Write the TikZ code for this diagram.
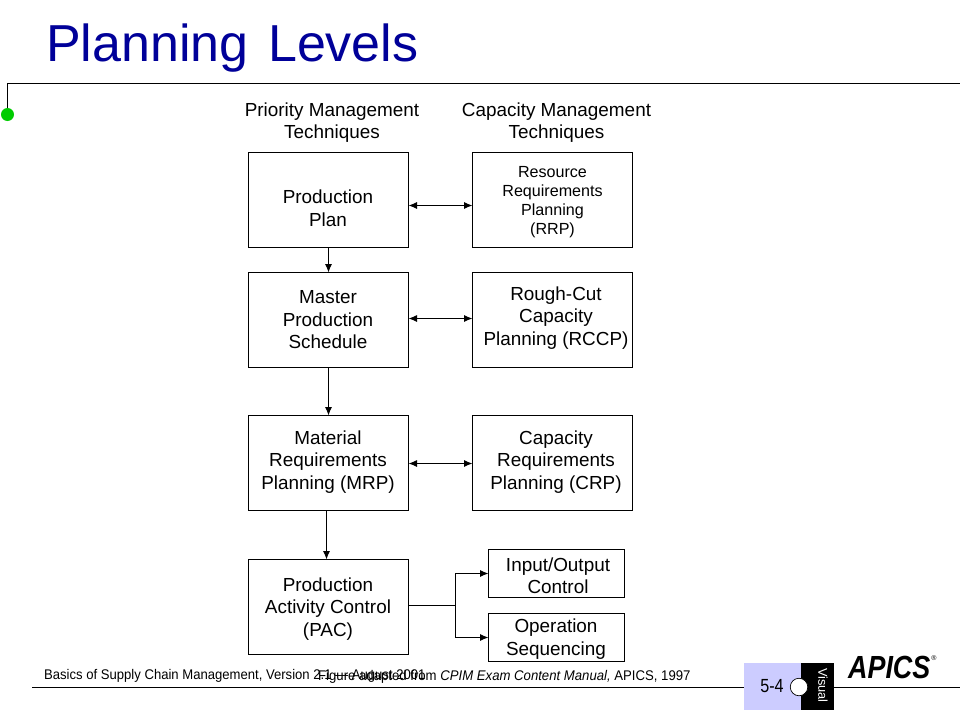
\documentclass[tikz,border=0pt]{standalone}
\usepackage{fontspec}
\setmainfont{Liberation Sans}
\usetikzlibrary{arrows.meta}
\definecolor{titleblue}{RGB}{0,0,153}
\definecolor{dotgreen}{RGB}{0,204,0}
\definecolor{lav}{RGB}{204,204,255}
\tikzset{
  boxnode/.style={draw=black,line width=1pt,minimum width=#1,inner sep=0pt,outer sep=0pt},
  labelnode/.style={align=center,inner sep=0pt,font=\fontsize{18.9}{22.5}\selectfont},
  smalllabel/.style={align=center,inner sep=0pt,font=\fontsize{16.1}{19}\selectfont},
  link/.style={line width=1pt,-{Latex[length=8.5pt,width=7pt]}},
  dlink/.style={line width=1pt,{Latex[length=8.5pt,width=7pt]}-{Latex[length=8.5pt,width=7pt]}},
  rule/.style={line width=1pt},
  foot/.style={anchor=west,inner sep=0pt,font=\fontsize{14}{16}\selectfont}
}
\begin{document}
\begin{tikzpicture}[x=1pt,y=-1pt]
\useasboundingbox (0,0) rectangle (960,720);
\fill[white] (0,0) rectangle (960,720);
% title
\node[anchor=west,inner sep=0pt,text=titleblue,font=\fontsize{52}{60}\selectfont] (title) at (46,48.5) {Planning\hspace{0.1em} Levels};
% top rule and dot
\coordinate (topend) at (960,83.5);
\coordinate (topcorner) at (7.5,83.5);
\node[circle,fill=dotgreen,minimum size=13pt,inner sep=0pt] (dot) at (7.5,114.5) {};
\draw[rule] (topend) -- (topcorner) -- (dot);
% bottom rule
\coordinate (botstart) at (32,687.5);
\coordinate (botend) at (960,687.5);
\draw[rule] (botstart) -- (botend);
% tab
\fill[lav] (744,663) rectangle (801,710);
\fill[black] (801,663) rectangle (834,710);
\node[circle,draw=black,fill=white,line width=0.7pt,minimum size=17.5pt,inner sep=0pt] (tabdot) at (799,687) {};
\node[inner sep=0pt,font=\fontsize{19}{22}\selectfont,xscale=0.85] (pagenum) at (772,686) {5-4};
\node[inner sep=0pt,text=white,rotate=-90,font=\fontsize{12.8}{15}\selectfont] (visual) at (823,685.5) {Visual};
% logo
\node[anchor=west,inner sep=0pt,font=\bfseries\itshape\fontsize{32}{34}\selectfont,xscale=0.84] (logo) at (848,667) {APICS};
\node[inner sep=0pt,font=\fontsize{7}{8}\selectfont] (reg) at (934,658) {®};
% footers
\node[foot,xscale=0.935] (foot1) at (44,676) {Basics of Supply Chain Management, Version 2.1 — August 2001};
\node[foot,xscale=0.94] (foot2) at (318,677) {Figure adapted from \textit{CPIM Exam Content Manual,} APICS, 1997};
% headers
\node[labelnode] (h1) at (332,122.5) {Priority Management\\Techniques};
\node[labelnode] (h2) at (556.5,122.5) {Capacity Management\\Techniques};
% boxes
\node[boxnode=160pt,minimum height=95pt] (pp) at (328.5,200) {};
\node[boxnode=160pt,minimum height=95pt] (rrp) at (552.5,200) {};
\node[boxnode=160pt,minimum height=95pt] (mps) at (328.5,320) {};
\node[boxnode=160pt,minimum height=95pt] (rccp) at (552.5,320) {};
\node[boxnode=160pt,minimum height=95pt] (mrp) at (328.5,463) {};
\node[boxnode=160pt,minimum height=95pt] (crp) at (552.5,463) {};
\node[boxnode=160pt,minimum height=95pt] (pac) at (328.5,607) {};
\node[boxnode=136pt,minimum height=48pt] (io) at (556.5,573.5) {};
\node[boxnode=136pt,minimum height=48pt] (ops) at (556.5,637.5) {};
% box texts
\node[labelnode] (tpp) at (328,208) {Production\\Plan};
\node[smalllabel] (trrp) at (552.5,202.5) {Resource\\Requirements\\Planning\\(RRP)};
\node[labelnode] (tmps) at (328,320) {Master\\Production\\Schedule};
\node[labelnode] (trccp) at (556,318) {Rough-Cut\\Capacity\\Planning (RCCP)};
\node[labelnode] (tmrp) at (328,462) {Material\\Requirements\\Planning (MRP)};
\node[labelnode] (tcrp) at (556,462) {Capacity\\Requirements\\Planning (CRP)};
\node[labelnode] (tpac) at (328,609) {Production\\Activity Control\\(PAC)};
\node[labelnode] (tio) at (558,575.5) {Input/Output\\Control};
\node[labelnode] (tops) at (556,639) {Operation\\Sequencing};
% connectors
\draw[link] (pp.south) -- (mps.north);
\draw[link] (mps.south) -- (mrp.north);
\draw[link] ([xshift=-2pt]mrp.south) -- ([xshift=-2pt]pac.north);
\draw[dlink] ([yshift=-5.5pt]pp.east) -- ([yshift=-5.5pt]rrp.west);
\draw[dlink] ([yshift=1.5pt]mps.east) -- ([yshift=1.5pt]rccp.west);
\draw[dlink] ([yshift=-0.5pt]mrp.east) -- ([yshift=-0.5pt]crp.west);
\coordinate (junction) at (455.5,605.5);
\draw[rule] ([yshift=1.5pt]pac.east) -- (junction);
\draw[link] (junction) |- (io.west);
\draw[link] (junction) |- (ops.west);
\end{tikzpicture}
\end{document}
